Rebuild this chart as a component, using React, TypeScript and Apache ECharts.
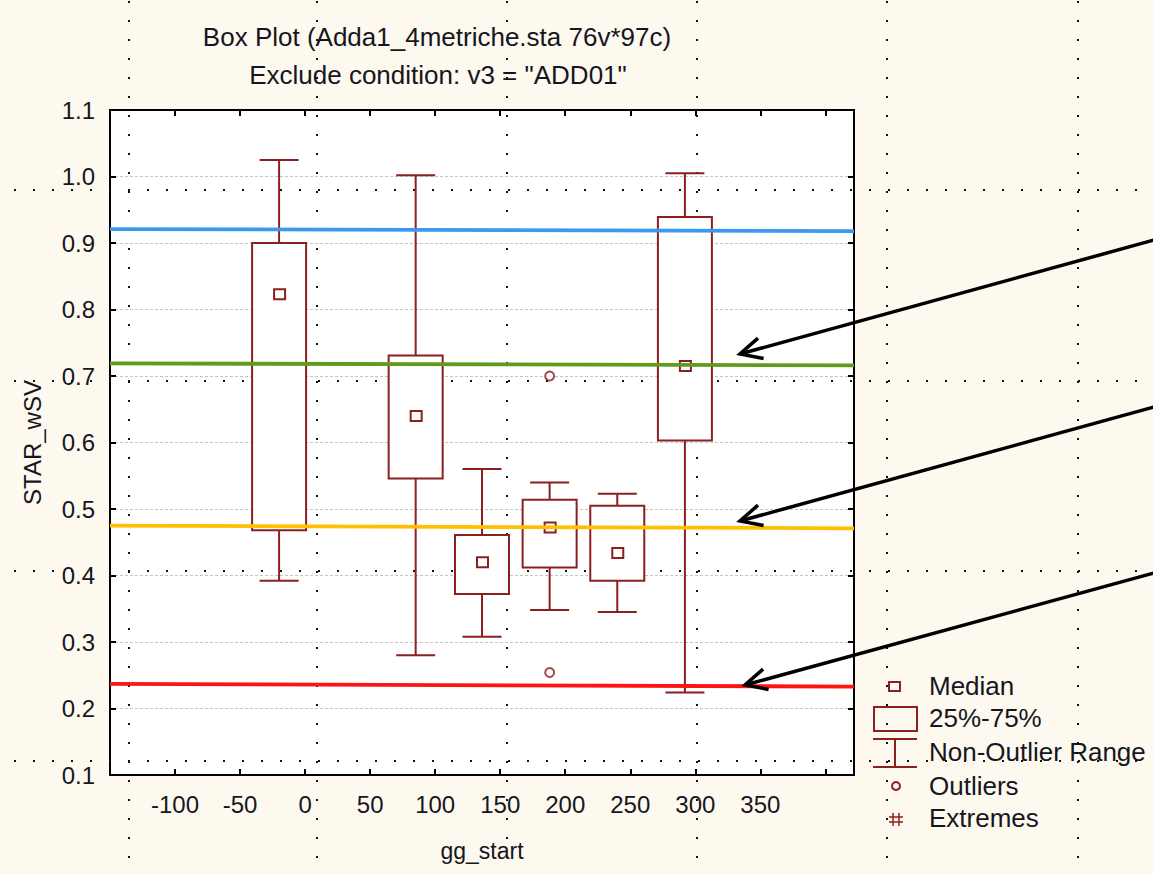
import React, { useEffect, useRef } from "react";
import * as echarts from "echarts";

// ---------- data ----------
const titleLines = ["Box Plot (Adda1_4metriche.sta 76v*97c)", 'Exclude condition: v3 = "ADD01"'];
const xName = "gg_start";
const yName = "STAR_wSV";

const boxX = [-20, 85, 136, 188, 240, 292];
const whiskerLow = [0.392, 0.28, 0.308, 0.348, 0.345, 0.224];
const q1 = [0.468, 0.546, 0.372, 0.412, 0.392, 0.603];
const median = [0.823, 0.64, 0.42, 0.472, 0.434, 0.715];
const q3 = [0.9, 0.731, 0.461, 0.514, 0.505, 0.939];
const whiskerHigh = [1.025, 1.002, 0.56, 0.54, 0.523, 1.005];

const outlierX = [188, 188];
const outlierY = [0.7, 0.254];

const refStart = [0.921, 0.719, 0.475, 0.237];
const refEnd = [0.918, 0.716, 0.471, 0.233];
const refColors = ["#3d98f0", "#5f9b1c", "#ffc000", "#ff1414"];

const legendLabels = ["Median", "25%-75%", "Non-Outlier Range", "Outliers", "Extremes"];

const xMin = -150;
const xMax = 422;
const xStep = 50;
const yMin = 0.1;
const yMax = 1.1;
const yStep = 0.1;

// ---------- styling ----------
const BOX = "#8c1f1f";
const BG = "#fdf9ee";
const TXT = "#161622";
const FONT = "'Liberation Sans', Arial, sans-serif";

// annotation arrows (pixel space): [tailX, tailY, tipX, tipY]
const arrows = [
  [1165, 237, 740, 354],
  [1165, 404, 740, 521],
  [1165, 570, 745, 685],
];

function arrowEls(a: number[]) {
  const [tx, ty, px, py] = a;
  const dx = tx - px;
  const dy = ty - py;
  const len = Math.hypot(dx, dy);
  const ux = dx / len;
  const uy = dy / len;
  const L = 24;
  const ang = (26 * Math.PI) / 180;
  const rot = (t: number) => [
    px + L * (ux * Math.cos(t) - uy * Math.sin(t)),
    py + L * (ux * Math.sin(t) + uy * Math.cos(t)),
  ];
  return [
    { type: "line", z: 20, shape: { x1: tx, y1: ty, x2: px, y2: py }, style: { stroke: "#000", lineWidth: 3.5 } },
    {
      type: "polyline",
      z: 20,
      shape: { points: [rot(ang), [px, py], rot(-ang)] },
      style: { stroke: "#000", lineWidth: 3.5, fill: null },
    },
  ];
}

function pageDots() {
  const els: any[] = [];
  const cols = [129, 317, 507, 697, 887, 1078];
  const rows = [190, 381, 571, 761];
  const st = { stroke: "#111", lineWidth: 2, lineDash: [2, 17] };
  cols.forEach((x) =>
    els.push({ type: "line", z: 1, silent: true, shape: { x1: x, y1: 1, x2: x, y2: 875 }, style: st })
  );
  rows.forEach((y) =>
    els.push({ type: "line", z: 1, silent: true, shape: { x1: 14, y1: y, x2: 1153, y2: y }, style: st })
  );
  return els;
}

function legendEls() {
  const lx = 929;
  const ys = [686, 718, 752, 786, 818];
  const st = { stroke: BOX, lineWidth: 2, fill: null };
  const els: any[] = [];
  legendLabels.forEach((t, i) =>
    els.push({
      type: "text",
      z: 15,
      style: { text: t, x: lx, y: ys[i], fill: TXT, font: `26px ${FONT}`, textVerticalAlign: "middle" },
    })
  );
  els.push({ type: "rect", z: 15, shape: { x: 889, y: 682, width: 11, height: 9 }, style: st });
  els.push({ type: "rect", z: 15, shape: { x: 874, y: 707, width: 43, height: 24 }, style: st });
  els.push({ type: "line", z: 15, shape: { x1: 873, y1: 739, x2: 917, y2: 739 }, style: st });
  els.push({ type: "line", z: 15, shape: { x1: 895, y1: 739, x2: 895, y2: 767 }, style: st });
  els.push({ type: "line", z: 15, shape: { x1: 873, y1: 767, x2: 917, y2: 767 }, style: st });
  els.push({ type: "circle", z: 15, shape: { cx: 896, cy: 786, r: 4 }, style: st });
  els.push({ type: "line", z: 15, shape: { x1: 893, y1: 813, x2: 893, y2: 826 }, style: { ...st, lineWidth: 1.5 } });
  els.push({ type: "line", z: 15, shape: { x1: 899, y1: 813, x2: 899, y2: 826 }, style: { ...st, lineWidth: 1.5 } });
  els.push({ type: "line", z: 15, shape: { x1: 889, y1: 817, x2: 903, y2: 817 }, style: { ...st, lineWidth: 1.5 } });
  els.push({ type: "line", z: 15, shape: { x1: 889, y1: 822, x2: 903, y2: 822 }, style: { ...st, lineWidth: 1.5 } });
  return els;
}

const renderBox = (_params: any, api: any) => {
  const x = api.value(0);
  const pLow = api.coord([x, api.value(1)]);
  const pQ1 = api.coord([x, api.value(2)]);
  const pMed = api.coord([x, api.value(3)]);
  const pQ3 = api.coord([x, api.value(4)]);
  const pHigh = api.coord([x, api.value(5)]);
  const cx = pLow[0];
  const bw = 54;
  const cw = 39;
  const ms = 10;
  const st = { stroke: BOX, lineWidth: 2, fill: null };
  return {
    type: "group",
    children: [
      { type: "line", shape: { x1: cx, y1: pQ3[1], x2: cx, y2: pHigh[1] }, style: st },
      { type: "line", shape: { x1: cx, y1: pQ1[1], x2: cx, y2: pLow[1] }, style: st },
      { type: "line", shape: { x1: cx - cw / 2, y1: pHigh[1], x2: cx + cw / 2, y2: pHigh[1] }, style: st },
      { type: "line", shape: { x1: cx - cw / 2, y1: pLow[1], x2: cx + cw / 2, y2: pLow[1] }, style: st },
      {
        type: "rect",
        shape: { x: cx - bw / 2, y: pQ3[1], width: bw, height: pQ1[1] - pQ3[1] },
        style: { stroke: BOX, lineWidth: 2, fill: "#fff" },
      },
      {
        type: "rect",
        z2: 5,
        shape: { x: cx - ms / 2, y: pMed[1] - ms / 2, width: ms + 1, height: ms },
        style: st,
      },
    ],
  };
};

export default function App() {
  const ref = useRef<HTMLDivElement>(null);
  useEffect(() => {
    document.body.style.margin = "0";
    const chart = echarts.init(ref.current!, null, { renderer: "svg" });
    const boxData = boxX.map((x, i) => [x, whiskerLow[i], q1[i], median[i], q3[i], whiskerHigh[i]]);
    const outData = outlierX.map((x, i) => [x, outlierY[i]]);
    const refSeries = refStart.map((v, i) => ({
      type: "line",
      z: 4,
      data: [
        [xMin, v],
        [xMax, refEnd[i]],
      ],
      showSymbol: false,
      symbol: "none",
      lineStyle: { color: refColors[i], width: 3.8 },
      silent: true,
    }));
    const axisLine = { show: true, onZero: false, lineStyle: { color: "#000", width: 2 } };
    const axisTick = { show: true, inside: true, length: 6, lineStyle: { color: "#000", width: 2 } };
    chart.setOption({
      animation: false,
      backgroundColor: BG,
      textStyle: { fontFamily: FONT },
      grid: {
        left: 110,
        top: 110,
        width: 744,
        height: 665,
        show: true,
        backgroundColor: "#fff",
        borderColor: "#000",
        borderWidth: 2,
      },
      xAxis: [
        {
          type: "value",
          position: "bottom",
          min: xMin,
          max: xMax,
          interval: xStep,
          name: xName,
          nameLocation: "middle",
          nameGap: 64,
          nameTextStyle: { fontSize: 23, color: TXT, fontFamily: FONT },
          axisLine,
          axisTick,
          splitLine: { show: false },
          axisLabel: {
            fontSize: 24,
            color: TXT,
            margin: 17,
            formatter: (v: number) => (v < -120 || v > 360 ? "" : String(v)),
          },
        },
        {
          type: "value",
          position: "top",
          min: xMin,
          max: xMax,
          interval: xStep,
          axisLine,
          axisTick,
          splitLine: { show: false },
          axisLabel: { show: false },
        },
      ],
      yAxis: [
        {
          type: "value",
          position: "left",
          min: yMin,
          max: yMax,
          interval: yStep,
          name: yName,
          nameLocation: "middle",
          nameGap: 66,
          nameRotate: 90,
          nameTextStyle: { fontSize: 24, color: TXT, fontFamily: FONT },
          axisLine,
          axisTick,
          splitLine: { show: true, lineStyle: { color: "#c4c4c4", width: 1, type: [3, 2] } },
          axisLabel: { fontSize: 24, color: TXT, margin: 15, formatter: (v: number) => v.toFixed(1) },
        },
        {
          type: "value",
          position: "right",
          min: yMin,
          max: yMax,
          interval: yStep,
          axisLine,
          axisTick,
          splitLine: { show: false },
          axisLabel: { show: false },
        },
      ],
      graphic: [
        ...pageDots(),
        {
          type: "text",
          z: 15,
          style: {
            text: titleLines[0],
            x: 437,
            y: 37,
            fill: TXT,
            font: `26px ${FONT}`,
            textAlign: "center",
            textVerticalAlign: "middle",
          },
        },
        {
          type: "text",
          z: 15,
          style: {
            text: titleLines[1],
            x: 438,
            y: 75,
            fill: TXT,
            font: `26px ${FONT}`,
            textAlign: "center",
            textVerticalAlign: "middle",
          },
        },
        ...legendEls(),
        ...arrows.flatMap((a) => arrowEls(a)),
      ],
      series: [
        {
          type: "custom",
          z: 3,
          renderItem: renderBox,
          data: boxData,
          encode: { x: 0, y: [1, 2, 3, 4, 5] },
          silent: true,
        },
        ...refSeries,
        {
          type: "scatter",
          z: 5,
          data: outData,
          symbol: "circle",
          symbolSize: 9,
          itemStyle: { color: "#fff", borderColor: BOX, borderWidth: 2 },
          silent: true,
        },
      ],
    });
    return () => chart.dispose();
  }, []);
  return <div ref={ref} style={{ width: 1153, height: 875 }} />;
}
